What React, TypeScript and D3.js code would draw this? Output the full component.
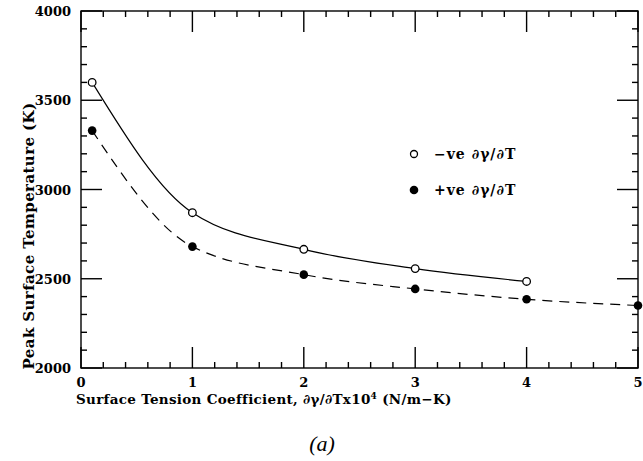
import React from "react";
import * as d3 from "d3";

const xNeg = [0.1, 1, 2, 3, 4];
const yNeg = [3600, 2870, 2665, 2557, 2485];
const xPos = [0.1, 1, 2, 3, 4, 5];
const yPos = [3330, 2680, 2523, 2443, 2385, 2350];
const xTicks = [0, 1, 2, 3, 4, 5];
const yTicks = [2000, 2500, 3000, 3500, 4000];
const legendLabels = ["\u2212ve \u2202\u03b3/\u2202T", "+ve \u2202\u03b3/\u2202T"];

const W = 643, H = 461;
const L = 81, R = 638, T = 11, B = 368;
const FONT = "'DejaVu Serif', serif";

export default function App() {
  const x = d3.scaleLinear().domain([0, 5]).range([L, R]);
  const y = d3.scaleLinear().domain([2000, 4000]).range([B, T]);
  const line = d3.line<[number, number]>().x(d => x(d[0])).y(d => y(d[1])).curve(d3.curveMonotoneX);
  const negPts: [number, number][] = xNeg.map((v, i) => [v, yNeg[i]]);
  const posPts: [number, number][] = xPos.map((v, i) => [v, yPos[i]]);
  const xMinor = d3.range(0, 5.001, 0.2);
  const yMinor = d3.range(2000, 4001, 100);
  const MAJ = 21, MIN = 6;
  const isMajX = (v: number) => Math.abs(v - Math.round(v)) < 1e-6;
  const isMajY = (v: number) => v % 500 === 0;
  return (
    <svg width={W} height={H} style={{ position: "absolute", left: 0, top: 0, background: "#fff" }}>
      <rect x={0} y={0} width={W} height={H} fill="#fff" />
      <g stroke="#000" strokeWidth={1.4} fill="none">
        <rect x={L} y={T} width={R - L} height={B - T} />
        {xMinor.map((v, i) => {
          const len = isMajX(v) ? MAJ : MIN;
          return (
            <g key={"xt" + i}>
              <line x1={x(v)} x2={x(v)} y1={B} y2={B - len} />
              <line x1={x(v)} x2={x(v)} y1={T} y2={T + len} />
            </g>
          );
        })}
        {yMinor.map((v, i) => {
          const len = isMajY(v) ? MAJ : MIN;
          return (
            <g key={"yt" + i}>
              <line x1={L} x2={L + len} y1={y(v)} y2={y(v)} />
              <line x1={R} x2={R - len} y1={y(v)} y2={y(v)} />
            </g>
          );
        })}
      </g>
      <path d={line(negPts) || ""} stroke="#000" strokeWidth={1.2} fill="none" />
      <path d={line(posPts) || ""} stroke="#000" strokeWidth={1.2} fill="none" strokeDasharray="10,7" />
      {negPts.map((p, i) => (
        <circle key={"n" + i} cx={x(p[0])} cy={y(p[1])} r={3.8} fill="#fff" stroke="#000" strokeWidth={1.3} />
      ))}
      {posPts.map((p, i) => (
        <circle key={"p" + i} cx={x(p[0])} cy={y(p[1])} r={4.3} fill="#000" />
      ))}
      <g fontFamily={FONT} fontWeight="bold" fontSize={13} fill="#000">
        {yTicks.map(v => (
          <text key={"yl" + v} x={L - 10} y={y(v) + 5} textAnchor="end">{v}</text>
        ))}
        {xTicks.map(v => (
          <text key={"xl" + v} x={x(v)} y={B + 19} textAnchor="middle">{v}</text>
        ))}
        <text x={76} y={B + 36} fontSize={13.5} letterSpacing={0.3}>
          Surface Tension Coefficient, {"\u2202\u03b3/\u2202Tx10"}
          <tspan dy={-5} fontSize={9}>4</tspan>
          <tspan dy={5}> (N/m{"\u2212"}K)</tspan>
        </text>
        <text transform={`translate(${34},${236}) rotate(-90)`} textAnchor="middle" fontSize={15} letterSpacing={0.4}>
          Peak Surface Temperature (K)
        </text>
        <circle cx={414} cy={154} r={3.5} fill="#fff" stroke="#000" strokeWidth={1.3} />
        <text x={434} y={159} fontSize={14} letterSpacing={1}>{legendLabels[0]}</text>
        <circle cx={414} cy={190} r={4.3} fill="#000" />
        <text x={434} y={195} fontSize={14} letterSpacing={1}>{legendLabels[1]}</text>
      </g>
      <text x={322} y={451} textAnchor="middle" fontFamily="'Liberation Serif', serif" fontStyle="italic" fontSize={22} fill="#000">
        (a)
      </text>
    </svg>
  );
}
